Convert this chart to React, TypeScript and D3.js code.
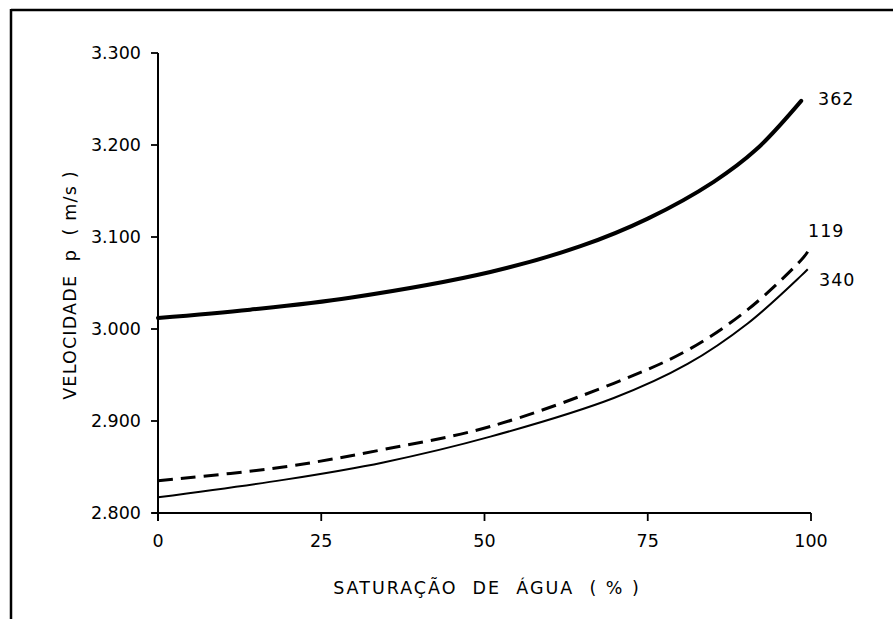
import React from "react";
import * as d3 from "d3";

const yTicks = [2.8, 2.9, 3.0, 3.1, 3.2, 3.3];
const xTicks = [0, 25, 50, 75, 100];

const s362x = [0, 14.1, 29.4, 50.9, 64.7, 75.0, 85.1, 91.6, 98.5];
const s362y = [3.012, 3.021, 3.034, 3.062, 3.090, 3.120, 3.160, 3.195, 3.248];

const s119x = [0, 19.2, 34.5, 50.9, 69.8, 81.1, 90.3, 98.5, 99.5];
const s119y = [2.835, 2.850, 2.869, 2.894, 2.941, 2.977, 3.021, 3.075, 3.084];

const s340x = [0, 19.2, 34.5, 50.9, 69.8, 81.1, 90.3, 98.5, 99.5];
const s340y = [2.817, 2.836, 2.855, 2.883, 2.925, 2.962, 3.006, 3.058, 3.065];

const seriesLabels = ["362", "119", "340"];

const W = 893;
const H = 619;
const FONT = "'DejaVu Sans', sans-serif";
const FS = 17.5;

export default function App() {
  const x = d3.scaleLinear().domain([0, 100]).range([158, 811]);
  const y = d3.scaleLinear().domain([2.8, 3.3]).range([513, 53]);
  const line = d3
    .line<[number, number]>()
    .x((d) => x(d[0]))
    .y((d) => y(d[1]))
    .curve(d3.curveCatmullRom.alpha(0.5));
  const zip = (a: number[], b: number[]) => a.map((v, i) => [v, b[i]] as [number, number]);
  const yLabel = (v: number) => {
    const s = (v * 1000).toFixed(0);
    return s[0] + "." + s.slice(1);
  };
  const p362 = zip(s362x, s362y);
  const p119 = zip(s119x, s119y);
  const p340 = zip(s340x, s340y);

  return (
    <svg
      width={W}
      height={H}
      style={{ position: "absolute", left: 0, top: 0, background: "#fff" }}
      fontFamily={FONT}
    >
      <rect x={0} y={0} width={W} height={H} fill="#fff" />
      {/* frame */}
      <line x1={11} y1={10} x2={W} y2={10} stroke="#000" strokeWidth={2.5} />
      <line x1={11} y1={9} x2={11} y2={H} stroke="#000" strokeWidth={2.5} />

      {/* y axis */}
      <line x1={x(0)} y1={y(3.3)} x2={x(0)} y2={y(2.8) + 8} stroke="#000" strokeWidth={2} />
      {yTicks.map((t) => (
        <g key={t}>
          <line x1={x(0) - 7} x2={x(0)} y1={y(t)} y2={y(t)} stroke="#000" strokeWidth={1.8} />
          <text
            x={x(0) - 17}
            y={y(t)}
            textAnchor="end"
            dominantBaseline="central"
            fontSize={FS}
            fill="#000"
          >
            {yLabel(t)}
          </text>
        </g>
      ))}

      {/* x axis */}
      <line x1={x(0) - 6} y1={y(2.8)} x2={x(100)} y2={y(2.8)} stroke="#000" strokeWidth={2} />
      {xTicks.map((t) => (
        <g key={t}>
          <line x1={x(t)} x2={x(t)} y1={y(2.8)} y2={y(2.8) + 8} stroke="#000" strokeWidth={1.8} />
          <text x={x(t)} y={y(2.8) + 34} textAnchor="middle" fontSize={FS} fill="#000">
            {t}
          </text>
        </g>
      ))}

      {/* curves */}
      <path d={line(p362) || ""} fill="none" stroke="#000" strokeWidth={4} strokeLinecap="round" />
      <path
        d={line(p119) || ""}
        fill="none"
        stroke="#000"
        strokeWidth={3}
        strokeDasharray="15 8"
      />
      <path d={line(p340) || ""} fill="none" stroke="#000" strokeWidth={2} />

      {/* series labels */}
      <text x={818} y={99} dominantBaseline="central" fontSize={FS} fill="#000" letterSpacing={1}>
        {seriesLabels[0]}
      </text>
      <text x={808} y={231} dominantBaseline="central" fontSize={FS} fill="#000" letterSpacing={1}>
        {seriesLabels[1]}
      </text>
      <text x={819} y={280} dominantBaseline="central" fontSize={FS} fill="#000" letterSpacing={1}>
        {seriesLabels[2]}
      </text>

      {/* axis titles */}
      <text
        x={487}
        y={594}
        textAnchor="middle"
        fontSize={FS}
        fill="#000"
        letterSpacing={2}
        style={{ whiteSpace: "pre" }}
      >
        {"SATURAÇÃO  DE  ÁGUA  ( % )"}
      </text>
      <text
        transform={`translate(76,285) rotate(-90)`}
        textAnchor="middle"
        fontSize={FS}
        fill="#000"
        letterSpacing={1.2}
        style={{ whiteSpace: "pre" }}
      >
        {"VELOCIDADE  p  ( m/s )"}
      </text>
    </svg>
  );
}
